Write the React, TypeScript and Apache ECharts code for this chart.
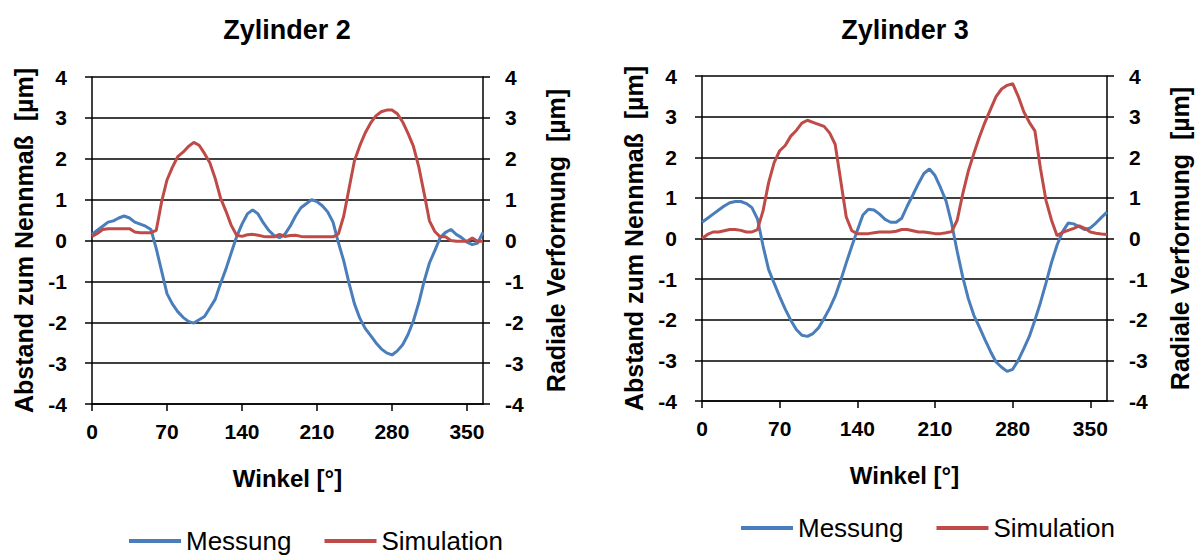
import React, { useEffect, useRef } from "react";
import * as echarts from "echarts";

// Winkel in Grad (5°-Schritte)
const angles = [
  0, 5, 10, 15, 20, 25, 30, 35, 40, 45, 50, 55,
  60, 65, 70, 75, 80, 85, 90, 95, 100, 105, 110, 115,
  120, 125, 130, 135, 140, 145, 150, 155, 160, 165, 170, 175,
  180, 185, 190, 195, 200, 205, 210, 215, 220, 225, 230, 235,
  240, 245, 250, 255, 260, 265, 270, 275, 280, 285, 290, 295,
  300, 305, 310, 315, 320, 325, 330, 335, 340, 345, 350, 355,
  360, 365,
];

// Zylinder 2
const messungZ2 = [
  0.15, 0.25, 0.35, 0.45, 0.48, 0.55, 0.6, 0.55, 0.45, 0.4, 0.35, 0.27,
  -0.2, -0.75, -1.3, -1.55, -1.74, -1.88, -1.98, -2.02, -1.94, -1.86, -1.65, -1.44,
  -1.05, -0.7, -0.3, 0.09, 0.4, 0.65, 0.75, 0.65, 0.43, 0.25, 0.12, 0.07,
  0.15, 0.35, 0.6, 0.8, 0.9, 1.0, 0.95, 0.85, 0.7, 0.45, -0.05, -0.5,
  -1.05, -1.55, -1.9, -2.15, -2.32, -2.5, -2.65, -2.75, -2.8, -2.7, -2.55, -2.3,
  -1.97, -1.53, -1.0, -0.55, -0.25, 0.07, 0.2, 0.27, 0.15, 0.07, -0.04, -0.1,
  -0.06, 0.2,
];
const simulationZ2 = [
  0.1, 0.17, 0.27, 0.29, 0.29, 0.29, 0.29, 0.29, 0.21, 0.19, 0.19, 0.19,
  0.25, 0.95, 1.48, 1.79, 2.05, 2.16, 2.3, 2.4, 2.33, 2.13, 1.9, 1.52,
  1.04, 0.72, 0.37, 0.13, 0.1, 0.14, 0.15, 0.13, 0.1, 0.09, 0.09, 0.15,
  0.1, 0.12, 0.13, 0.1, 0.09, 0.09, 0.09, 0.09, 0.09, 0.09, 0.16, 0.6,
  1.28, 1.95, 2.32, 2.63, 2.87, 3.05, 3.15, 3.19, 3.19, 3.1, 2.9, 2.62,
  2.31, 1.81, 1.16, 0.48, 0.22, 0.09, 0.09, 0.0, -0.02, -0.02, -0.02, 0.06,
  -0.02, -0.02,
];

// Zylinder 3
const messungZ3 = [
  0.4, 0.5, 0.6, 0.7, 0.8, 0.88, 0.91, 0.91, 0.86, 0.76, 0.48, -0.18,
  -0.76, -1.1, -1.43, -1.74, -2.01, -2.24, -2.38, -2.41, -2.34, -2.2, -1.97, -1.72,
  -1.42, -1.03, -0.6, -0.19, 0.2, 0.58, 0.72, 0.7, 0.6, 0.47, 0.4, 0.4,
  0.5, 0.8, 1.07, 1.35, 1.6, 1.71, 1.55, 1.25, 0.92, 0.37, -0.32, -0.95,
  -1.48, -1.89, -2.18, -2.49, -2.78, -3.04, -3.17, -3.27, -3.22, -3.0, -2.71, -2.41,
  -2.01, -1.58, -1.1, -0.59, -0.16, 0.17, 0.38, 0.36, 0.29, 0.22, 0.26, 0.38,
  0.52, 0.65,
];
const simulationZ3 = [
  0.0, 0.1, 0.16, 0.16, 0.19, 0.22, 0.22, 0.2, 0.16, 0.16, 0.22, 0.68,
  1.37, 1.87, 2.16, 2.29, 2.52, 2.66, 2.84, 2.91, 2.86, 2.81, 2.76, 2.6,
  2.32, 1.43, 0.53, 0.19, 0.12, 0.12, 0.12, 0.14, 0.16, 0.16, 0.16, 0.18,
  0.22, 0.22, 0.19, 0.16, 0.16, 0.14, 0.12, 0.12, 0.14, 0.17, 0.45, 1.1,
  1.66, 2.09, 2.5, 2.86, 3.18, 3.49, 3.68, 3.77, 3.81, 3.5, 3.12, 2.86,
  2.65, 1.73, 0.94, 0.45, 0.07, 0.15, 0.2, 0.25, 0.31, 0.25, 0.16, 0.13,
  0.11, 0.1,
];

const titles = ["Zylinder 2", "Zylinder 3"];
const seriesNames = ["Messung", "Simulation"];
const xAxisName = "Winkel [°]";
const leftAxisName = "Abstand zum Nennmaß  [µm]";
const rightAxisName = "Radiale Verformung  [µm]";

const FONT = "'Liberation Sans', Arial, sans-serif";
const BLUE = "#4A7EBB";
const RED = "#BE4B48";
const RULE = { color: "#000", width: 1.5 };

const grids = [
  { left: 92, top: 77, width: 391, height: 327 },
  { left: 702, top: 76, width: 405, height: 325 },
];

function pairs(values: number[]) {
  return angles.map((a, i) => [a, values[i]]);
}

function xAxisFor(gridIndex: number) {
  return {
    type: "value",
    gridIndex,
    min: 0,
    max: 365,
    interval: 70,
    name: xAxisName,
    nameLocation: "middle",
    nameGap: 62,
    nameTextStyle: { fontFamily: FONT, fontWeight: "bold", fontSize: 24, color: "#000" },
    axisLine: { show: true, onZero: false, lineStyle: RULE },
    axisTick: { show: true, length: 7, lineStyle: RULE },
    axisLabel: {
      fontFamily: FONT,
      fontWeight: "bold",
      fontSize: 21,
      color: "#000",
      margin: 17,
      showMaxLabel: false,
    },
    splitLine: { show: false },
  };
}

function yAxisFor(gridIndex: number, position: "left" | "right") {
  const isLeft = position === "left";
  return {
    type: "value",
    gridIndex,
    position,
    min: -4,
    max: 4,
    interval: 1,
    name: isLeft ? leftAxisName : rightAxisName,
    nameLocation: "middle",
    nameGap: isLeft ? 56 : 60,
    nameRotate: 90,
    nameTextStyle: { fontFamily: FONT, fontWeight: "bold", fontSize: 25, color: "#000" },
    axisLine: { show: true, onZero: false, lineStyle: RULE },
    axisTick: { show: true, length: 7, lineStyle: RULE },
    axisLabel: {
      fontFamily: FONT,
      fontWeight: "bold",
      fontSize: 21,
      color: "#000",
      margin: isLeft ? 25 : 22,
    },
    splitLine: { show: isLeft, lineStyle: RULE },
  };
}

function lineSeries(name: string, values: number[], color: string, xi: number, yi: number) {
  return {
    type: "line",
    name,
    xAxisIndex: xi,
    yAxisIndex: yi,
    data: pairs(values),
    symbol: "none",
    smooth: false,
    color,
    lineStyle: { color, width: 3 },
  };
}

function legendAt(left: number, top: number) {
  return {
    left,
    top,
    orient: "horizontal",
    data: seriesNames,
    icon: "rect",
    itemWidth: 52,
    itemHeight: 4,
    itemGap: 33,
    padding: 0,
    textStyle: { fontFamily: FONT, fontSize: 26, color: "#000" },
  };
}

export default function App() {
  const ref = useRef<HTMLDivElement>(null);

  useEffect(() => {
    if (!ref.current) return;
    const chart = echarts.init(ref.current, undefined, { renderer: "svg" });
    chart.setOption({
      animation: false,
      backgroundColor: "#fff",
      grid: grids,
      xAxis: [xAxisFor(0), xAxisFor(1)],
      yAxis: [
        yAxisFor(0, "left"),
        yAxisFor(0, "right"),
        yAxisFor(1, "left"),
        yAxisFor(1, "right"),
      ],
      legend: [legendAt(129, 528), legendAt(741, 515)],
      series: [
        lineSeries(seriesNames[0], messungZ2, BLUE, 0, 0),
        lineSeries(seriesNames[1], simulationZ2, RED, 0, 1),
        lineSeries(seriesNames[0], messungZ3, BLUE, 1, 2),
        lineSeries(seriesNames[1], simulationZ3, RED, 1, 3),
      ],
      graphic: [
        {
          type: "text",
          x: 287,
          y: 30,
          style: {
            text: titles[0],
            fontFamily: FONT,
            fontWeight: "bold",
            fontSize: 27,
            fill: "#000",
            align: "center",
            verticalAlign: "middle",
          },
        },
        {
          type: "text",
          x: 905,
          y: 30,
          style: {
            text: titles[1],
            fontFamily: FONT,
            fontWeight: "bold",
            fontSize: 27,
            fill: "#000",
            align: "center",
            verticalAlign: "middle",
          },
        },
      ],
    });
    return () => chart.dispose();
  }, []);

  return (
    <div
      ref={ref}
      style={{ position: "absolute", left: 0, top: 0, width: 1197, height: 555, background: "#fff" }}
    />
  );
}
